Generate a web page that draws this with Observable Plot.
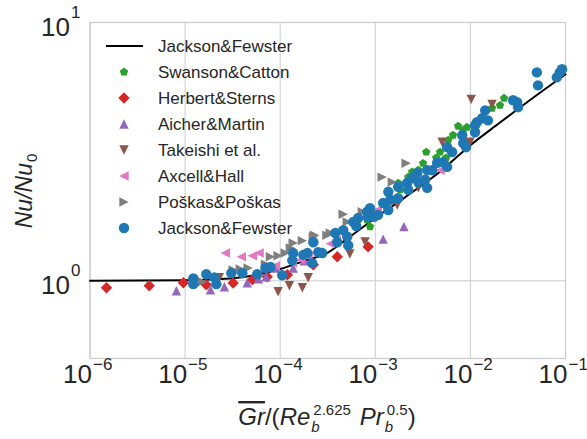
<!DOCTYPE html>
<html><head><meta charset="utf-8">
<script src="https://cdn.jsdelivr.net/npm/d3@7"></script>
<script src="https://cdn.jsdelivr.net/npm/@observablehq/plot@0.6"></script>
<style>
body{margin:0;background:#fff;}
#chart{position:relative;width:587px;height:439px;font-family:"Liberation Sans",Arial,sans-serif;}
#chart svg{position:absolute;left:0;top:0;}
</style></head><body><div id="chart"></div>
<script>
// ---- data ----
const xTicks = [1e-6, 1e-5, 1e-4, 1e-3, 1e-2, 1e-1];
const xTickExp = ["−6", "−5", "−4", "−3", "−2", "−1"];
const yTicks = [1, 10];
const yTickExp = ["0", "1"];

const corrX = [1e-6, 1e-5, 3e-5, 1e-4, 2e-4, 3e-4, 5e-4, 1e-3, 2e-3, 5e-3, 1e-2, 2e-2, 5e-2, 1e-1];
const corrY = [1.0, 1.005, 1.02, 1.11, 1.21, 1.27, 1.45, 1.75, 2.09, 2.68, 3.35, 4.07, 5.24, 6.3];

const swansonX = [8.2e-4, 8.8e-4, 9.5e-4, 1.27e-3, 1.44e-3, 1.37e-3, 1.74e-3, 1.83e-3, 2.22e-3, 2.44e-3, 2.83e-3, 3.18e-3, 3.43e-3, 4.37e-3, 4.8e-3, 5.56e-3, 5.84e-3, 6.57e-3, 7.43e-3, 8.4e-3, 9.2e-3, 1.2e-2, 1.69e-2, 2.05e-2, 2.26e-2];
const swansonY = [1.72, 1.62, 1.85, 1.97, 2.05, 2.19, 2.39, 2.25, 2.52, 2.64, 2.68, 2.85, 3.15, 2.99, 3.15, 2.99, 3.50, 3.66, 3.97, 3.83, 3.93, 4.15, 4.66, 4.78, 5.09];

const herbertX = [1.49e-6, 4.2e-6, 9.6e-6, 1.67e-5, 3.2e-5, 5.1e-5, 7.3e-5, 1.19e-4, 2.23e-4, 3.98e-4, 8.4e-4];
const herbertY = [0.94, 0.956, 0.982, 0.965, 0.98, 1.01, 1.036, 1.055, 1.153, 1.238, 1.353];

const aicherX = [8.1e-6, 1.85e-5, 2.59e-5, 4.5e-5, 5.9e-5, 7.1e-5, 8.9e-5, 1.37e-4, 1.79e-4, 1.21e-3, 2.0e-3];
const aicherY = [0.915, 0.923, 0.948, 0.982, 1.018, 1.036, 1.12, 1.12, 1.195, 1.45, 1.62];

const takeishiX = [2.29e-5, 9.5e-5, 1.25e-4, 1.71e-4, 1.97e-4, 5.4e-4, 7.8e-4, 1.7e-3, 2.83e-3, 5.05e-3, 9.9e-3, 1.02e-2, 1.69e-2, 9.2e-2];
const takeishiY = [1.027, 0.907, 0.956, 0.94, 1.027, 1.27, 1.414, 1.965, 2.29, 3.44, 3.44, 5.04, 4.82, 6.53];

const axcellX = [2.65e-5, 3.9e-5, 5.1e-5, 6.0e-5, 8.9e-5, 1.34e-4, 1.63e-4, 1.97e-4, 2.51e-4, 3.36e-4, 3.88e-4, 1.05e-3, 4.8e-3];
const axcellY = [1.28, 1.238, 1.249, 1.28, 1.143, 1.174, 1.205, 1.249, 1.294, 1.39, 1.44, 1.88, 2.68];

const poskasX = [1.52e-5, 3.2e-5, 3.8e-5, 4.6e-5, 7.0e-5, 7.9e-5, 9.5e-5, 1.13e-4, 1.28e-4, 1.37e-4, 1.71e-4, 2.23e-4, 2.3e-4, 3.1e-4, 3.36e-4, 4.6e-4, 5.07e-4, 7.3e-4, 1.18e-3, 1.51e-3, 2.11e-3];
const poskasY = [0.991, 1.10, 1.11, 1.12, 1.16, 1.238, 1.249, 1.28, 1.34, 1.40, 1.43, 1.48, 1.5, 1.5, 1.53, 1.81, 1.69, 1.85, 2.52, 2.41, 2.85];

const jacksonX = [1.22e-5, 1.22e-5, 1.67e-5, 2.03e-5, 2.13e-5, 3.06e-5, 4.0e-5, 5.74e-5, 7.0e-5, 7.9e-5, 1.05e-4, 1.34e-4, 1.37e-4, 1.75e-4, 1.93e-4, 2.17e-4, 2.23e-4, 2.51e-4, 2.77e-4, 3.79e-4, 3.98e-4, 4.6e-4, 5.07e-4, 5.19e-4, 5.86e-4, 6.3e-4, 6.6e-4, 8.2e-4, 8.4e-4, 8.8e-4, 9.7e-4, 1.07e-3, 1.21e-3, 1.37e-3, 1.37e-3, 1.44e-3, 1.74e-3, 1.74e-3, 2.16e-3, 2.22e-3, 2.44e-3, 2.75e-3, 2.83e-3, 3.34e-3, 3.51e-3, 3.51e-3, 3.96e-3, 4.47e-3, 5.16e-3, 5.69e-3, 5.69e-3, 6.43e-3, 8.2e-3, 8.4e-3, 9.0e-3, 1.12e-2, 1.12e-2, 1.17e-2, 1.33e-2, 1.43e-2, 1.53e-2, 2.81e-2, 3.1e-2, 3.17e-2, 5.0e-2, 5.14e-2, 8.1e-2, 8.7e-2, 9.2e-2];
const jacksonY = [1.02, 0.97, 1.06, 1.03, 0.97, 1.07, 1.07, 1.06, 1.12, 1.13, 1.05, 1.2, 1.28, 1.26, 1.28, 1.17, 1.41, 1.29, 1.28, 1.53, 1.41, 1.57, 1.48, 1.37, 1.69, 1.63, 1.75, 1.85, 1.77, 1.91, 1.77, 1.8, 2.0, 2.21, 1.88, 2.06, 2.09, 2.31, 2.39, 2.25, 2.5, 2.61, 2.41, 2.46, 2.68, 2.29, 2.68, 2.86, 2.88, 2.76, 3.29, 3.15, 3.66, 3.41, 3.29, 4.0, 3.76, 4.11, 4.26, 4.57, 4.18, 5.0, 4.91, 4.7, 6.41, 5.71, 6.13, 6.41, 6.59];

const seriesNames = ["Swanson&Catton", "Herbert&Sterns", "Aicher&Martin", "Takeishi et al.", "Axcell&Hall", "Poškas&Poškas", "Jackson&Fewster"];
const lineName = "Jackson&Fewster";

// ---- symbols ----
function poly(pts) {
  return {draw(ctx, size) {
    const r = Math.sqrt(size / Math.PI);
    pts.forEach(([a, b], i) => i ? ctx.lineTo(a * r, b * r) : ctx.moveTo(a * r, b * r));
    ctx.closePath();
  }};
}
const pent = [];
for (let i = 0; i < 5; i++) { const a = -Math.PI / 2 + i * 2 * Math.PI / 5; pent.push([Math.cos(a), Math.sin(a)]); }
const symPentagon = poly(pent);
const symDiamond = poly([[0, -1], [1, 0], [0, 1], [-1, 0]]);
const symUp = poly([[0, -1], [1, 1], [-1, 1]]);
const symDown = poly([[0, 1], [1, -1], [-1, -1]]);
const symLeft = poly([[-1, 0], [1, -1], [1, 1]]);
const symRight = poly([[1, 0], [-1, -1], [-1, 1]]);
const symCircle = {draw(ctx, size) { const r = Math.sqrt(size / Math.PI); ctx.moveTo(r, 0); ctx.arc(0, 0, r, 0, 2 * Math.PI); }};

const zip = (xs, ys) => xs.map((x, i) => ({x, y: ys[i]}));
const series = [
  {data: zip(swansonX, swansonY), color: "#2ca02c", sym: symPentagon, r: 4.4},
  {data: zip(herbertX, herbertY), color: "#d62728", sym: symDiamond, r: 5.7},
  {data: zip(aicherX, aicherY), color: "#9467bd", sym: symUp, r: 4.7},
  {data: zip(takeishiX, takeishiY), color: "#8c564b", sym: symDown, r: 4.7},
  {data: zip(axcellX, axcellY), color: "#e377c2", sym: symLeft, r: 4.7},
  {data: zip(poskasX, poskasY), color: "#7f7f7f", sym: symRight, r: 4.7},
  {data: zip(jacksonX, jacksonY), color: "#1f77b4", sym: symCircle, r: 5.2}
];

const txt = "#262626";
const FONT = '"Liberation Sans", Arial, sans-serif';
const plot = Plot.plot({
  width: 587, height: 439,
  marginLeft: 89.5, marginRight: 22, marginTop: 22, marginBottom: 81,
  x: {type: "log", domain: [1e-6, 1e-1], axis: null},
  y: {type: "log", domain: [0.5, 10], axis: null},
  style: {fontFamily: FONT, background: "white", overflow: "visible", color: txt},
  marks: [
    Plot.ruleX(xTicks, {stroke: "#cccccc", strokeWidth: 1, strokeOpacity: 1}),
    Plot.ruleY(yTicks, {stroke: "#cccccc", strokeWidth: 1, strokeOpacity: 1}),
    Plot.frame({stroke: "#cccccc", strokeWidth: 1.25}),
    Plot.line(zip(corrX, corrY), {x: "x", y: "y", stroke: "black", strokeWidth: 2, curve: "monotone-x"}),
    ...series.map(s => Plot.dot(s.data, {x: "x", y: "y", fill: s.color, stroke: "none", r: s.r, symbol: s.sym})),
    Plot.text(xTicks, {x: d => d, frameAnchor: "bottom", text: () => "10", textAnchor: "end", dx: 2, dy: 24, fontSize: 26, fill: txt}),
    Plot.text(xTicks, {x: d => d, frameAnchor: "bottom", text: (d, i) => xTickExp[i], textAnchor: "start", dx: 3, dy: 11, fontSize: 17, fill: txt}),
    Plot.text(yTicks, {y: d => d, frameAnchor: "left", text: () => "10", textAnchor: "end", dx: -20, dy: 5, fontSize: 26, fill: txt}),
    Plot.text(yTicks, {y: d => d, frameAnchor: "left", text: (d, i) => yTickExp[i], textAnchor: "start", dx: -19, dy: -10, fontSize: 17, fill: txt})
  ]
});
document.getElementById("chart").appendChild(plot);

// ---- math-like labels ----
const svg = d3.select(plot);
function mathText(x, y, pieces, rotate) {
  const g = svg.append("g");
  const inner = g.append("g");
  let cx = 0, prevStart = 0;
  for (const p of pieces) {
    const t = inner.append("text").text(p.t)
      .attr("text-anchor", "start")
      .attr("font-size", p.s).attr("font-style", p.i ? "italic" : "normal")
      .attr("y", p.dy || 0).attr("fill", txt)
      .style("font-family", FONT);
    if (p.o) t.attr("text-decoration", "overline");
    const w = t.node().getComputedTextLength();
    let start = (p.stack ? prevStart : cx) + (p.dx || 0);
    t.attr("x", start);
    cx = p.stack ? Math.max(cx, start + w) : start + w;
    prevStart = start;
  }
  inner.attr("transform", `translate(${-cx / 2},0)`);
  g.attr("transform", `translate(${x},${y})` + (rotate ? " rotate(-90)" : ""));
}
mathText(327, 425, [
  {t: "Gr", i: 1, s: 24, o: 1},
  {t: "/(", s: 24},
  {t: "Re", i: 1, s: 24},
  {t: "b", i: 1, s: 15, dy: 7, dx: 1},
  {t: "2.625", s: 15, dy: -10, stack: 1, dx: 2},
  {t: "Pr", i: 1, s: 24, dx: 9},
  {t: "b", i: 1, s: 15, dy: 7, dx: 1},
  {t: "0.5", s: 15, dy: -10, stack: 1, dx: 2},
  {t: ")", s: 24}
], false);
mathText(32, 191, [
  {t: "Nu/Nu", i: 1, s: 23},
  {t: "0", s: 15, dy: 5, dx: 1}
], true);

// ---- legend ----
const lg = svg.append("g");
const rowY = i => 46 + 26 * i;
lg.append("line").attr("x1", 106).attr("x2", 143).attr("y1", rowY(0)).attr("y2", rowY(0)).attr("stroke", "black").attr("stroke-width", 2);
lg.append("text").attr("x", 158).attr("y", rowY(0)).attr("dy", "0.35em").attr("text-anchor", "start").attr("font-size", 17).attr("fill", txt).text(lineName);
series.forEach((s, i) => {
  const y = rowY(i + 1);
  lg.append("path").attr("d", d3.symbol(s.sym, Math.PI * s.r * s.r)()).attr("transform", `translate(124,${y})`).attr("fill", s.color);
  lg.append("text").attr("x", 158).attr("y", y).attr("dy", "0.35em").attr("text-anchor", "start").attr("font-size", 17).attr("fill", txt).text(seriesNames[i]);
});
</script></body></html>
